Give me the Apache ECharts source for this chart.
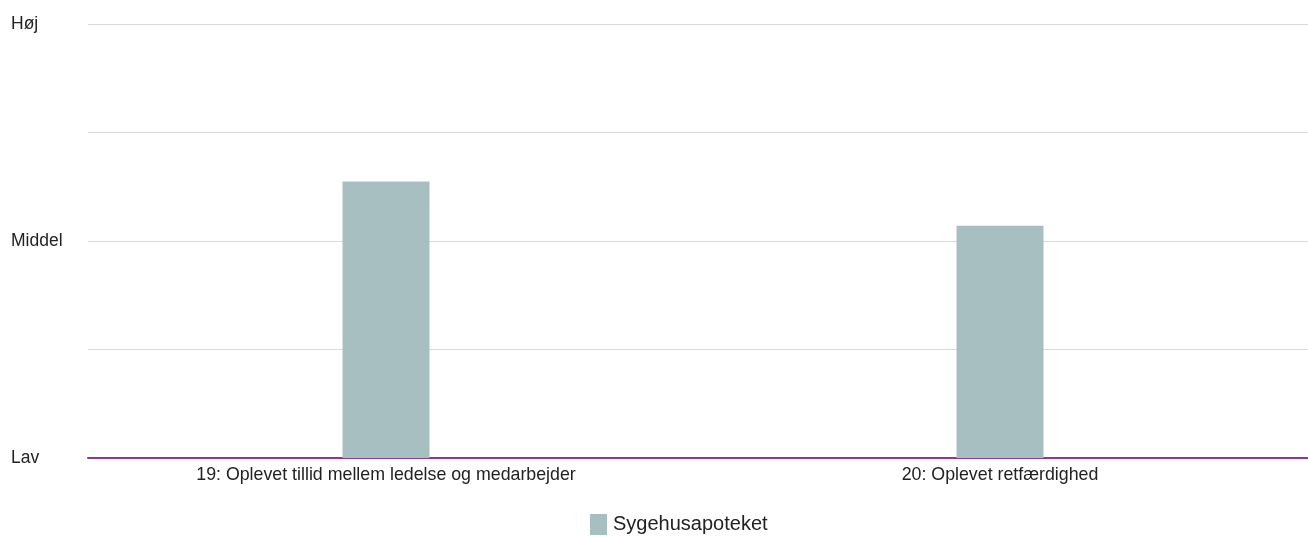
<!DOCTYPE html>
<html><head><meta charset="utf-8">
<script src="https://cdn.jsdelivr.net/npm/echarts@6/dist/echarts.min.js"></script>
<style>html,body{margin:0;padding:0;background:#fff}#c{width:1308px;height:537px}</style>
</head><body><div id="c"></div>
<script>
const categories = ["19: Oplevet tillid mellem ledelse og medarbejder", "20: Oplevet retfærdighed"];
const seriesName = "Sygehusapoteket";
const values = [63.7, 53.5];
const yTickLabels = {0: "Lav", 50: "Middel", 100: "Høj"};

const FONT = "Liberation Sans, Arial, sans-serif";
const chart = echarts.init(document.getElementById('c'));
chart.setOption({
  animation: false,
  textStyle: {fontFamily: FONT},
  grid: [
    {left: 88, right: 0, top: 24, bottom: 79, containLabel: false},
    {left: 79, right: 1, top: 24, bottom: 79, containLabel: false}
  ],
  legend: {
    top: 514, left: 590, padding: 0,
    itemWidth: 17, itemHeight: 21,
    icon: 'rect',
    textStyle: {fontSize: 20, color: '#222', fontFamily: FONT, padding: [0, 0, 0, 1]},
    data: [seriesName]
  },
  xAxis: [
    {
      gridIndex: 0, type: 'category', data: categories,
      axisLine: {lineStyle: {color: '#8B3A8F', width: 2}},
      axisTick: {show: false}, axisLabel: {show: false}
    },
    {
      gridIndex: 1, type: 'category', data: categories,
      axisLine: {show: false}, axisTick: {show: false},
      axisLabel: {fontSize: 17.8, color: '#222', margin: 8, fontFamily: FONT}
    }
  ],
  yAxis: [
    {
      gridIndex: 0, type: 'value', min: 0, max: 100, interval: 25,
      axisLine: {show: false}, axisTick: {show: false},
      splitLine: {lineStyle: {color: '#d9d9d9', width: 1}},
      axisLabel: {
        fontSize: 17.5, color: '#222', align: 'left', margin: 77, fontFamily: FONT,
        formatter: v => yTickLabels[v] || ''
      }
    },
    {
      gridIndex: 1, type: 'value', min: 0, max: 100, interval: 25, show: false
    }
  ],
  series: [{
    name: seriesName, type: 'bar', data: values, barWidth: 87,
    xAxisIndex: 1, yAxisIndex: 1,
    itemStyle: {color: '#A8BFC1'}
  }]
});
</script></body></html>
